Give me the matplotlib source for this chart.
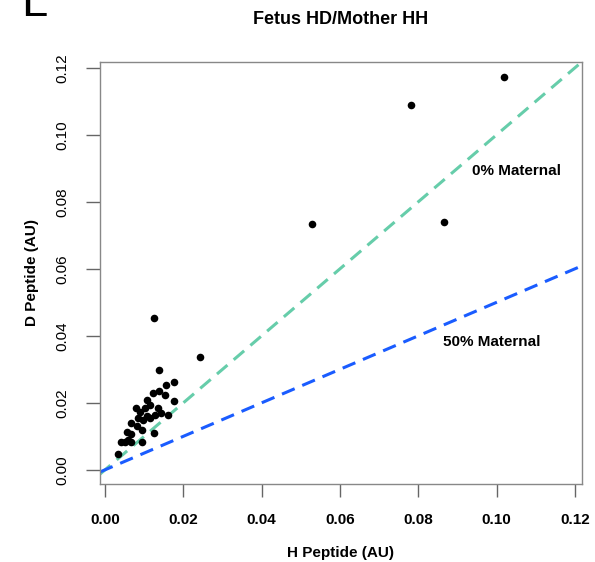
import matplotlib.pyplot as plt

plt.rcParams["font.family"] = ["Liberation Sans", "DejaVu Sans"]

# H vs D peptide signal per sample
h_peptide = [0.1019, 0.0782, 0.0529, 0.0866, 0.0125, 0.0243, 0.0139, 0.0156,
             0.0176, 0.0137, 0.0106, 0.0123, 0.0152, 0.0078, 0.0102, 0.0135,
             0.0176, 0.0084, 0.0106, 0.0128, 0.0144, 0.0161, 0.0115, 0.0066,
             0.0081, 0.0094, 0.0055, 0.0067, 0.0125, 0.0059, 0.0051, 0.0041,
             0.0066, 0.0095, 0.0032, 0.0097, 0.0089, 0.0115]
d_peptide = [0.1173, 0.1090, 0.0735, 0.0740, 0.0452, 0.0338, 0.0297, 0.0254,
             0.0262, 0.0236, 0.0209, 0.0228, 0.0224, 0.0184, 0.0185, 0.0184,
             0.0205, 0.0155, 0.0160, 0.0164, 0.0169, 0.0164, 0.0155, 0.0140,
             0.0131, 0.0118, 0.0113, 0.0107, 0.0110, 0.0090, 0.0084, 0.0082,
             0.0082, 0.0082, 0.0048, 0.0149, 0.0173, 0.0194]

ref_slopes = [1.0, 0.5]
ref_labels = ["0% Maternal", "50% Maternal"]
ref_colors = ["#66cdaa", "#1a5cff"]
label_pos = [(0.0937, 0.0893), (0.0863, 0.0382)]

ticks = [0.00, 0.02, 0.04, 0.06, 0.08, 0.10, 0.12]

fig = plt.figure(figsize=(5.95, 5.62), dpi=100)
ax = fig.add_axes([0.168, 0.139, 0.810, 0.751])

xlim = (-0.0013, 0.1218)
ylim = (-0.0042, 0.1218)

for slope, color in zip(ref_slopes, ref_colors):
    ax.plot(xlim, [slope * v for v in xlim], color=color, lw=2.2,
            dashes=(4.5, 2.7), zorder=1)

ax.scatter(h_peptide, d_peptide, s=30, color="black", zorder=3, linewidths=0)

for text, (tx, ty) in zip(ref_labels, label_pos):
    ax.text(tx, ty, text, fontsize=11, fontweight="bold", va="center", ha="left")

ax.set_xlim(*xlim)
ax.set_ylim(*ylim)
ax.set_xticks(ticks)
ax.set_yticks(ticks)
ax.set_xticklabels([f"{t:.2f}" for t in ticks], fontsize=11, fontweight="bold")
ax.set_yticklabels([f"{t:.2f}" for t in ticks], fontsize=11, rotation=90, va="center")
ax.tick_params(axis="x", length=9, width=1, color="#666666", pad=12)
ax.tick_params(axis="y", length=10, width=1, color="#666666", pad=12)
for spine in ax.spines.values():
    spine.set_color("#888888")
    spine.set_linewidth(1)

ax.set_xlabel("H Peptide (AU)", fontsize=11, fontweight="bold", labelpad=14)
ax.set_ylabel("D Peptide (AU)", fontsize=11, fontweight="bold", labelpad=12)

fig.text(0.572, 0.965, "Fetus HD/Mother HH", fontsize=13, fontweight="bold",
         ha="center", va="center")
# panel letter sits partly above the top edge
fig.text(0.035, 0.972, "L", fontsize=34, ha="left", va="baseline")

fig.savefig("out.png", dpi=100)
plt.close(fig)
